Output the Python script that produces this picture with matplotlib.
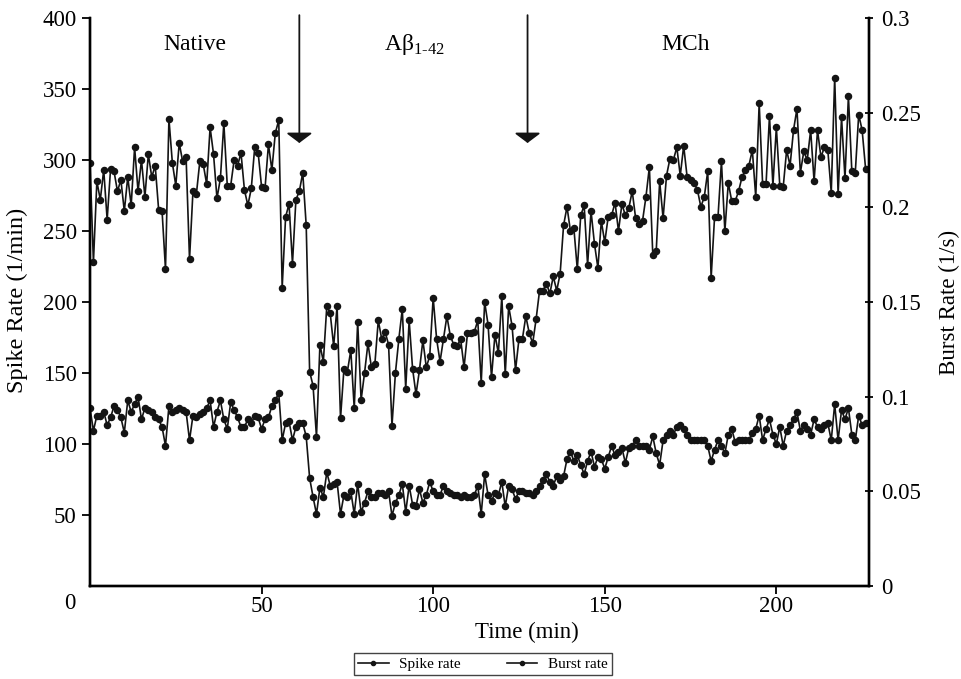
import numpy as np
import matplotlib
matplotlib.use("Agg")
import matplotlib.pyplot as plt
from matplotlib.lines import Line2D

# spike rate (1/min), one sample per minute
spike_rate = [
    298, 228, 285, 272, 293, 258, 294, 292, 278, 286,
    264, 288, 268, 309, 278, 300, 274, 304, 288, 296,
    265, 264, 223, 329, 298, 282, 312, 299, 302, 230,
    278, 276, 299, 297, 283, 323, 304, 273, 287, 326,
    282, 282, 300, 296, 305, 279, 268, 280, 309, 305,
    281, 280, 311, 293, 319, 328,
    210, 260, 269, 227, 272, 278, 291, 254, 151, 141,
    105, 170, 158, 197, 192, 169, 197, 118, 153, 151,
    166, 125, 186, 131, 150, 171, 154, 156, 187, 174,
    179, 170, 113, 150, 174, 195, 139, 187, 153, 135,
    152, 173, 154, 162, 203, 174, 158, 174, 190, 176,
    170, 169, 174, 154, 178, 178, 179, 187,
    143, 200, 184, 147, 177, 164, 204, 149, 197, 183,
    152, 174, 174, 190, 178, 171, 188, 208, 208, 213,
    206, 218, 208, 220, 254, 267, 250, 252, 223, 261,
    268, 226, 264, 241, 224, 257, 242, 260, 261, 270,
    250, 269, 261, 266, 278, 259, 255, 257, 274, 295,
    233, 236, 285, 259, 289, 301,
    300, 309, 289, 310, 288, 286, 284, 279, 267, 274,
    292, 217, 260, 260, 299, 250, 284, 271, 271, 278,
    288, 293, 296, 307, 274, 340, 283, 283, 331, 282,
    323, 282, 281, 307, 296, 321, 336, 291, 306, 300,
    321, 285, 321, 302, 309, 307, 277, 358, 276, 330,
    287, 345, 292, 291, 332, 321, 294,
]

# burst rate (1/s)
burst_rate = [
    0.094, 0.082, 0.090, 0.090, 0.092, 0.085, 0.089, 0.095, 0.093, 0.089,
    0.081, 0.098, 0.092, 0.096, 0.100, 0.088, 0.094, 0.093, 0.092, 0.089,
    0.088, 0.084, 0.074, 0.095, 0.092, 0.093, 0.094, 0.093, 0.092, 0.077,
    0.090, 0.089, 0.091, 0.092, 0.094, 0.098, 0.084, 0.092, 0.098, 0.088,
    0.083, 0.097, 0.093, 0.089, 0.084, 0.084, 0.088, 0.086, 0.090, 0.089,
    0.083, 0.088, 0.089, 0.095, 0.098, 0.102,
    0.077, 0.086, 0.087, 0.077, 0.084, 0.086, 0.086, 0.079, 0.057, 0.047,
    0.038, 0.052, 0.047, 0.060, 0.053, 0.054, 0.055, 0.038, 0.048, 0.047,
    0.050, 0.038, 0.054, 0.039, 0.044, 0.050, 0.047, 0.047, 0.049, 0.049,
    0.048, 0.050, 0.037, 0.044, 0.048, 0.054, 0.039, 0.053, 0.043, 0.042,
    0.051, 0.044, 0.048, 0.055, 0.050, 0.048, 0.048, 0.053, 0.050, 0.049,
    0.048, 0.048, 0.047, 0.048, 0.047, 0.047, 0.048, 0.053, 0.038, 0.059,
    0.048, 0.045, 0.049, 0.048, 0.055, 0.042, 0.053, 0.051, 0.046, 0.050,
    0.050, 0.049, 0.049, 0.048, 0.050, 0.053, 0.056, 0.059,
    0.055, 0.053, 0.058, 0.056, 0.058, 0.067, 0.071, 0.066, 0.069, 0.064,
    0.059, 0.066, 0.071, 0.063, 0.068, 0.067, 0.062, 0.068, 0.074, 0.069,
    0.071, 0.073, 0.065, 0.073, 0.074, 0.077, 0.074, 0.074, 0.074, 0.072,
    0.079, 0.070, 0.064, 0.077, 0.080, 0.082, 0.080, 0.084, 0.085, 0.083,
    0.080, 0.077, 0.077, 0.077, 0.077, 0.077, 0.074, 0.066, 0.072, 0.077,
    0.074, 0.070, 0.080, 0.083, 0.076, 0.077, 0.077, 0.077, 0.077, 0.081,
    0.083, 0.090, 0.077, 0.083, 0.088, 0.080, 0.075, 0.084, 0.074, 0.082,
    0.085, 0.088, 0.092, 0.082, 0.085, 0.083, 0.080, 0.088, 0.084, 0.083,
    0.085, 0.086, 0.077, 0.096, 0.077, 0.093, 0.088, 0.094, 0.080, 0.077,
    0.090, 0.085, 0.086,
]

time_min = np.arange(len(spike_rate))

x_ticks = [50, 100, 150, 200]
spike_ticks = [50, 100, 150, 200, 250, 300, 350, 400]
burst_ticks = [0, 0.05, 0.1, 0.15, 0.2, 0.25, 0.3]
burst_labels = ["0", "0.05", "0.1", "0.15", "0.2", "0.25", "0.3"]

phase_names = ["Native", "A\u03b2$_{1\u201042}$", "MCh"]
phase_time = [30.5, 94.5, 173.5]
switch_time = [61, 127.5]

plt.rcParams["font.family"] = ["Liberation Serif", "DejaVu Serif"]
plt.rcParams["mathtext.fontset"] = "custom"
plt.rcParams["mathtext.rm"] = "Liberation Serif"

fig = plt.figure(figsize=(9.61, 6.79), dpi=100)
ax = fig.add_axes([90 / 961, 93 / 679, 779 / 961, 568 / 679])
ax2 = ax.twinx()

ink = "#141414"
style = dict(color=ink, lw=1.2, marker="o", ms=4.4, mec=ink, mfc=ink)
ax.plot(time_min, spike_rate, **style)
ax2.plot(time_min, burst_rate, **style)

ax.set_xlim(0, 227)
ax.set_ylim(0, 400)
ax2.set_ylim(0, 0.3)

ax.set_xticks(x_ticks)
ax.set_yticks(spike_ticks)
ax2.set_yticks(burst_ticks)
ax2.set_yticklabels(burst_labels)

for a in (ax, ax2):
    a.spines["top"].set_visible(False)
    for s in a.spines.values():
        s.set_linewidth(1.7)
ax.tick_params(axis="both", labelsize=16.5, width=1.3, length=6, direction="out")
ax.tick_params(axis="x", pad=1)
ax2.tick_params(axis="y", labelsize=16.5, width=1.3, length=6, direction="inout", pad=6)
ax.text(-0.026, -0.031, "0", transform=ax.transAxes, ha="center", va="center", fontsize=16.5)

ax.set_xlabel("Time (min)", fontsize=16.5)
ax.xaxis.set_label_coords(0.561, -0.064)
ax.set_ylabel("Spike Rate (1/min)", fontsize=17.5)
ax.yaxis.set_label_coords(-0.079, 0.502)
ax2.set_ylabel("Burst Rate (1/s)", fontsize=16.5)
ax2.yaxis.set_label_coords(1.09, 0.5)

for name, t in zip(phase_names, phase_time):
    ax.text(t, 381, name, ha="center", va="center", fontsize=17)

for t in switch_time:
    ax.annotate("", xy=(t, 312), xytext=(t, 402), annotation_clip=False,
                arrowprops=dict(arrowstyle="-|>,head_length=0.6,head_width=0.8",
                                color=ink, lw=1.3, shrinkA=0, shrinkB=0))

handles = [Line2D([], [], **style), Line2D([], [], **style)]
leg = fig.legend(handles, ["Spike rate", "Burst rate"], loc="center",
                 bbox_to_anchor=(483 / 961, 1 - 664 / 679), ncol=2, fontsize=11,
                 frameon=True, fancybox=False, edgecolor=ink, handlelength=2.0,
                 borderpad=0.3, columnspacing=3.0, handletextpad=0.7)
leg.get_frame().set_linewidth(1.0)
for h in leg.legend_handles:
    h.set_markersize(3)

fig.savefig("out.png", dpi=100)
